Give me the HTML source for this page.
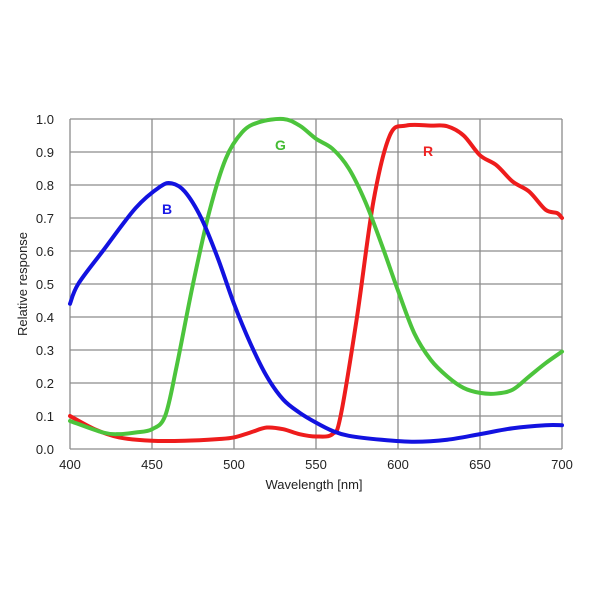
<!DOCTYPE html>
<html><head><style>
body{margin:0;background:#fff;width:600px;height:600px;overflow:hidden}
svg{font-family:"Liberation Sans",Arial,sans-serif}
</style></head><body>
<svg id="s" width="600" height="600" xmlns="http://www.w3.org/2000/svg">
<g stroke="#8c8c8c" stroke-width="1.3" fill="none" id="grid"></g>
<g font-size="13" fill="#222" id="lab"></g>
<text x="314" y="489" font-size="13" text-anchor="middle" fill="#222">Wavelength [nm]</text>
<text transform="translate(27,284) rotate(-90)" font-size="13" text-anchor="middle" fill="#222">Relative response</text>
<g id="curves" fill="none" stroke-width="4" stroke-linejoin="round" stroke-linecap="round"></g>
<text x="162" y="214" font-size="14" font-weight="bold" fill="#1a1ae6">B</text>
<text x="275" y="150" font-size="14" font-weight="bold" fill="#44bb33">G</text>
<text x="423" y="156" font-size="14" font-weight="bold" fill="#ee2222">R</text>
</svg>
<script>
const X=w=>70+(w-400)*1.64, Y=v=>449-330*v;
const ns="http://www.w3.org/2000/svg";
const g=document.getElementById('grid'),lab=document.getElementById('lab');
function el(p,t,a){const e=document.createElementNS(ns,t);for(const k in a)e.setAttribute(k,a[k]);p.appendChild(e);return e;}
for(let i=0;i<=10;i++){el(g,'line',{x1:70,x2:562,y1:Y(i/10),y2:Y(i/10)});
 const t=el(lab,'text',{x:54,y:Y(i/10)+5,'text-anchor':'end'});t.textContent=(i/10).toFixed(1);}
for(let w=400;w<=700;w+=50){el(g,'line',{x1:X(w),x2:X(w),y1:119,y2:449});
 const t=el(lab,'text',{x:X(w),y:469,'text-anchor':'middle'});t.textContent=w;}
function path(d){const p=d.map(([w,v])=>[X(w),Y(v)]);let s=`M${p[0][0]},${p[0][1]}`;
 for(let i=0;i<p.length-1;i++){const p0=p[i-1]||p[i],p1=p[i],p2=p[i+1],p3=p[i+2]||p2;
 s+=`C${p1[0]+(p2[0]-p0[0])/6},${p1[1]+(p2[1]-p0[1])/6} ${p2[0]-(p3[0]-p1[0])/6},${p2[1]-(p3[1]-p1[1])/6} ${p2[0]},${p2[1]}`;}return s;}
const B=[[400,.44],[405,.5],[420,.6],[440,.73],[455,.795],[462,.805],[470,.78],[480,.7],[490,.58],[500,.44],[510,.32],[520,.22],[530,.15],[540,.11],[550,.08],[560,.055],[570,.04],[590,.028],[610,.022],[630,.028],[650,.045],[670,.063],[690,.072],[700,.072]];
const G=[[400,.085],[420,.05],[430,.045],[440,.05],[450,.06],[458,.1],[465,.25],[475,.5],[485,.72],[495,.88],[505,.96],[515,.99],[530,1.0],[540,.98],[550,.94],[560,.91],[570,.85],[580,.75],[590,.62],[600,.48],[610,.35],[620,.27],[630,.22],[640,.185],[650,.17],[660,.168],[670,.18],[680,.22],[690,.26],[700,.295]];
const R=[[400,.1],[415,.06],[430,.035],[450,.025],[470,.025],[490,.03],[500,.035],[510,.05],[520,.065],[530,.06],[540,.045],[550,.038],[560,.045],[565,.1],[575,.4],[585,.75],[595,.95],[605,.98],[620,.98],[630,.978],[640,.95],[650,.89],[660,.86],[670,.81],[680,.78],[690,.725],[697,.715],[700,.7]];
const c=document.getElementById('curves');
el(c,'path',{d:path(R),stroke:'#ee1c1c'});
el(c,'path',{d:path(G),stroke:'#4cc43c'});
el(c,'path',{d:path(B),stroke:'#1212e0'});
</script>
</body></html>
